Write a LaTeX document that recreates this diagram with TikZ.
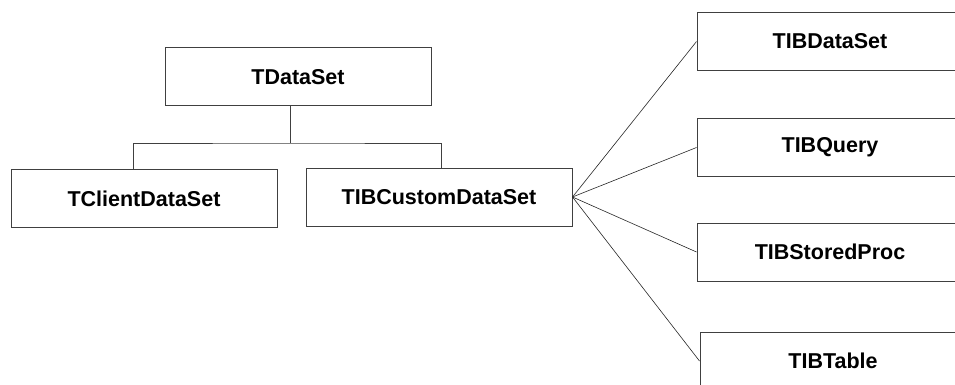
\documentclass[tikz,border=0pt]{standalone}
\usepackage{fontspec}
\setmainfont{Liberation Sans}
\usepackage{tikz}
\usetikzlibrary{positioning}

\begin{document}
\begin{tikzpicture} [x = 1pt, y = -1pt, node distance = 106pt, on grid,
    cls/.style = {draw = black!75, line width = 1pt, minimum width = 266pt,
        minimum height = 58pt, inner sep = 0pt,
        font = \fontsize{21.5}{24}\selectfont\bfseries}]

        \clip (0,0) rectangle (955,385);

        \node (tds) [cls] at (298,77) {TDataSet}; \node (tcds) [cls] at
        (144,198.5) {TClientDataSet}; \node (tibcds) [cls] at (439,197)
        {TIBCustomDataSet};

        \node (tibds) [cls] at (830,41.5) {TIBDataSet}; \node (tibq) [cls,
        below = of tibds] {TIBQuery}; \node (tibsp) [cls, below = 104.5pt of
        tibq] {TIBStoredProc}; \node (tibt) [cls, below = 109pt of tibsp,
        xshift = 3pt] {TIBTable};

        \coordinate (bus) at (290,143);

        \draw [black!75, line width = 1pt]
            ([xshift = -8pt]tds.south) -- (bus)
            ([xshift = -11pt]tcds.north) |- (bus) -| ([xshift = 2pt]tibcds.north);

        \path [draw = black!85, line width = 0.6pt]
            (tibcds.east) edge (tibds.west) (tibcds.east) edge (tibq.west)
            (tibcds.east) edge (tibsp.west) (tibcds.east) edge (tibt.west);

    \end{tikzpicture}
\end{document}
